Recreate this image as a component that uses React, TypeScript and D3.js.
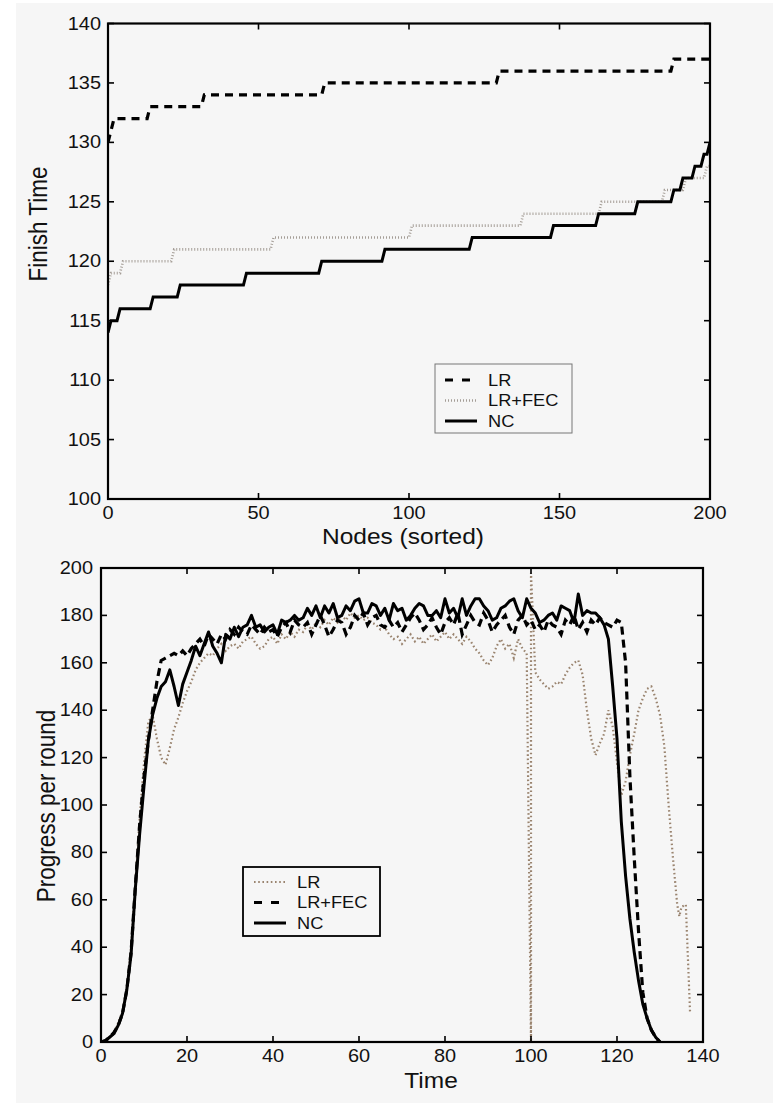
import React, { useRef, useEffect } from 'react';
import * as d3 from 'd3';

// ---- top panel: finish time per node (nodes sorted), stepwise levels ----
const nodeTicks = [0, 50, 100, 150, 200];
const finishTicks = [100, 105, 110, 115, 120, 125, 130, 135, 140];

// node index at which each level starts, and the level value
const lrStarts = [0, 1, 2, 14, 32, 72, 130, 188];
const lrLevels = [130, 131, 132, 133, 134, 135, 136, 137];

const fecStarts = [0, 1, 5, 22, 55, 101, 138, 164, 185, 192, 199];
const fecLevels = [118, 119, 120, 121, 122, 123, 124, 125, 126, 127, 128];

const ncStarts = [0, 1, 4, 15, 24, 46, 71, 92, 121, 148, 163, 176, 188, 191, 195, 198, 200];
const ncLevels = [114, 115, 116, 117, 118, 119, 120, 121, 122, 123, 124, 125, 126, 127, 128, 129, 130];

// ---- bottom panel: progress per round over time ----
const timeTicks = [0, 20, 40, 60, 80, 100, 120, 140];
const progressTicks = [0, 20, 40, 60, 80, 100, 120, 140, 160, 180, 200];

// one value per round, t = 0..130
const ncProgress = [
  0, 0.5, 2, 3.5, 7, 12, 22, 37, 65, 88, 108, 127, 138, 145, 150, 152, 157, 150, 142, 151,
  156, 161, 167, 163, 168, 173, 167, 164, 160, 172, 170, 175, 171, 175, 176, 180, 175, 176, 173, 175,
  176, 172, 178, 177, 178, 180, 178, 179, 183, 180, 184, 179, 184, 181, 185, 179, 180, 184, 182, 186,
  187, 181, 181, 185, 184, 180, 183, 178, 185, 182, 183, 178, 180, 183, 185, 184, 180, 180, 182, 179,
  187, 181, 183, 179, 187, 180, 184, 187, 187, 184, 182, 178, 179, 183, 184, 186, 187, 182, 179, 187,
  183, 181, 177, 178, 180, 181, 178, 184, 183, 182, 177, 189, 180, 182, 181, 181, 179, 176, 170, 150,
  128, 93, 70, 52, 38, 26, 16, 10, 5, 2, 0,
];

const fecProgress = [
  0, 0.5, 2, 4, 7, 12, 22, 38, 66, 92, 112, 127, 140, 152, 161, 162, 163, 164, 163, 165,
  163, 166, 168, 170, 167, 172, 170, 168, 172, 170, 174, 172, 175, 173, 172, 176, 174, 172, 175, 173,
  174, 171, 175, 177, 173, 178, 176, 175, 177, 172, 176, 180, 176, 171, 174, 178, 177, 172, 175, 180,
  178, 181, 176, 179, 180, 176, 175, 178, 175, 177, 173, 176, 179, 181, 178, 174, 176, 179, 175, 172,
  177, 179, 176, 181, 172, 176, 180, 177, 176, 181, 178, 173, 176, 178, 180, 175, 172, 178, 180, 176,
  178, 174, 176, 173, 178, 176, 175, 172, 178, 176, 180, 174, 177, 173, 178, 176, 179, 177, 176, 175,
  178, 177, 160, 112, 78, 47, 21, 10, 5, 2, 0,
];

// LR: one value per round for t = 0..99, then the irregular tail as [t, value]
const lrProgress = [
  0, 0.5, 2, 4, 8, 13, 23, 40, 68, 95, 118, 135, 138, 128, 120, 117, 124, 132, 137, 143,
  148, 152, 157, 160, 162, 164, 163, 166, 168, 165, 167, 168, 166, 169, 170, 171, 168, 166, 167, 170,
  171, 168, 172, 170, 173, 171, 174, 173, 176, 174, 177, 175, 178, 176, 179, 177, 180, 178, 181, 179,
  180, 178, 179, 177, 176, 174, 175, 172, 170, 171, 168, 170, 172, 169, 171, 168, 170, 172, 169, 171,
  173, 170, 172, 170, 168, 171, 169, 166, 164, 161, 159, 162, 167, 170, 166, 168, 162, 170, 166, 164,
];
const lrTail = [
  [100, 0], [100, 198], [101, 156], [102, 153], [103, 151], [104, 149], [105, 150], [106, 152],
  [107, 151], [108, 155], [109, 158], [110, 160], [111, 161], [112, 155], [113, 140], [114, 128],
  [115, 121], [116, 126], [117, 130], [118, 140], [119, 133], [120, 118], [121, 104], [122, 110],
  [123, 121], [124, 130], [125, 140], [126, 145], [127, 149], [128, 150], [129, 145], [130, 138],
  [131, 125], [132, 100], [133, 78], [134, 58], [134.5, 53], [135, 57], [136, 58], [137, 12],
];

const BG = '#f6f6f6';
const INK = '#111';
const DOT_TOP = '#a49d96';
const DOT_BOTTOM = '#9a846f';
const FONT = '"Liberation Sans", Arial, Helvetica, sans-serif';
const SX = 1.14; // the lettering of the figure is a little wider than plain Helvetica

function stepPoints(starts: number[], levels: number[], last: number) {
  const pts: [number, number][] = [];
  levels.forEach((v, i) => {
    const s = starts[i];
    const e = i < levels.length - 1 ? starts[i + 1] - 1 : last;
    pts.push([s, v]);
    if (e > s) pts.push([e, v]);
  });
  return pts;
}

function text(g: any, x: number, y: number, s: string, size: number, anchor = 'middle', rotate = 0) {
  const t = rotate
    ? `translate(${x},${y}) rotate(${rotate}) scale(1,${SX})`
    : `translate(${x},${y}) scale(${SX},1)`;
  g.append('text')
    .attr('transform', t)
    .attr('text-anchor', anchor)
    .attr('dominant-baseline', 'central')
    .attr('font-family', FONT)
    .attr('font-size', size)
    .attr('fill', INK)
    .text(s);
}

function frame(g: any, x: any, y: any, xTicks: number[], yTicks: number[]) {
  const [x0, x1] = x.range();
  const [y0, y1] = y.range();
  const tick = 6;
  xTicks.forEach((v) => {
    g.append('line').attr('x1', x(v)).attr('x2', x(v)).attr('y1', y0).attr('y2', y0 - tick);
    g.append('line').attr('x1', x(v)).attr('x2', x(v)).attr('y1', y1).attr('y2', y1 + tick);
  });
  yTicks.forEach((v) => {
    g.append('line').attr('x1', x0).attr('x2', x0 + tick).attr('y1', y(v)).attr('y2', y(v));
    g.append('line').attr('x1', x1).attr('x2', x1 - tick).attr('y1', y(v)).attr('y2', y(v));
  });
  g.selectAll('line').attr('stroke', '#000').attr('stroke-width', 1.6);
  g.append('rect')
    .attr('x', x0).attr('y', y1)
    .attr('width', x1 - x0).attr('height', y0 - y1)
    .attr('fill', 'none').attr('stroke', '#000').attr('stroke-width', 2.2);
}

function App() {
  const ref = useRef<SVGSVGElement>(null);

  useEffect(() => {
    if (!ref.current) return;
    const svg = d3.select(ref.current);
    svg.selectAll('*').remove();

    svg.append('rect').attr('x', 16).attr('y', 3).attr('width', 757).attr('height', 1100).attr('fill', BG);

    const defs = svg.append('defs');

    // ---------- top panel ----------
    const xTop = d3.scaleLinear().domain([0, 200]).range([108, 710]);
    const yTop = d3.scaleLinear().domain([100, 140]).range([499, 23.5]);
    defs.append('clipPath').attr('id', 'clipTop').append('rect')
      .attr('x', 108).attr('y', 23.5).attr('width', 602).attr('height', 475.5);

    const lineTop = d3.line<[number, number]>().x((d) => xTop(d[0])).y((d) => yTop(d[1]));
    const top = svg.append('g').attr('clip-path', 'url(#clipTop)');
    top.append('path')
      .attr('d', lineTop(stepPoints(fecStarts, fecLevels, 200)))
      .attr('fill', 'none').attr('stroke', DOT_TOP).attr('stroke-width', 2.6).attr('stroke-dasharray', '1,2');
    top.append('path')
      .attr('d', lineTop(stepPoints(ncStarts, ncLevels, 200)))
      .attr('fill', 'none').attr('stroke', '#000').attr('stroke-width', 3);
    top.append('path')
      .attr('d', lineTop(stepPoints(lrStarts, lrLevels, 200)))
      .attr('fill', 'none').attr('stroke', '#000').attr('stroke-width', 3.2).attr('stroke-dasharray', '8,6');

    frame(svg.append('g'), xTop, yTop, nodeTicks, finishTicks);
    const tl = svg.append('g');
    finishTicks.forEach((v) => text(tl, 101, yTop(v), String(v), 17.5, 'end'));
    nodeTicks.forEach((v) => text(tl, xTop(v), 513, String(v), 17.5));
    text(tl, 403, 537, 'Nodes (sorted)', 21.5);
    text(tl, 38, 224, 'Finish Time', 22.5, 'middle', -90);

    // legend (top)
    const lt = svg.append('g');
    lt.append('rect').attr('x', 435).attr('y', 364).attr('width', 137).attr('height', 69)
      .attr('fill', BG).attr('stroke', '#777').attr('stroke-width', 1);
    const topLegend = [
      { name: 'LR', stroke: '#000', w: 3.2, dash: '8,9' },
      { name: 'LR+FEC', stroke: DOT_TOP, w: 2.6, dash: '1,2' },
      { name: 'NC', stroke: '#000', w: 3, dash: null },
    ];
    topLegend.forEach((d, i) => {
      const yy = 380 + i * 20.5;
      lt.append('line').attr('x1', 445).attr('x2', 477).attr('y1', yy).attr('y2', yy)
        .attr('stroke', d.stroke).attr('stroke-width', d.w).attr('stroke-dasharray', d.dash);
      text(lt, 488, yy, d.name, 16, 'start');
    });

    // ---------- bottom panel ----------
    const xBot = d3.scaleLinear().domain([0, 140]).range([101, 703]);
    const yBot = d3.scaleLinear().domain([0, 200]).range([1042, 568]);
    defs.append('clipPath').attr('id', 'clipBot').append('rect')
      .attr('x', 101).attr('y', 568).attr('width', 602).attr('height', 474);

    const lineBot = d3.line<[number, number]>().x((d) => xBot(d[0])).y((d) => yBot(d[1]));
    const ncPts = ncProgress.map((v, i) => [i, v] as [number, number]);
    const fecPts = fecProgress.map((v, i) => [i, v] as [number, number]);
    const lrPts = lrProgress.map((v, i) => [i, v] as [number, number]).concat(lrTail as [number, number][]);

    const bot = svg.append('g').attr('clip-path', 'url(#clipBot)');
    bot.append('path').attr('d', lineBot(lrPts))
      .attr('fill', 'none').attr('stroke', DOT_BOTTOM).attr('stroke-width', 2.2).attr('stroke-dasharray', '1.6,2.6');
    bot.append('path').attr('d', lineBot(fecPts))
      .attr('fill', 'none').attr('stroke', '#000').attr('stroke-width', 3.2).attr('stroke-dasharray', '8,5');
    bot.append('path').attr('d', lineBot(ncPts))
      .attr('fill', 'none').attr('stroke', '#000').attr('stroke-width', 3).attr('stroke-linejoin', 'round');

    frame(svg.append('g'), xBot, yBot, timeTicks, progressTicks);
    const bl = svg.append('g');
    progressTicks.forEach((v) => text(bl, 93, yBot(v), String(v), 17.5, 'end'));
    timeTicks.forEach((v) => text(bl, xBot(v), 1056, String(v), 17.5));
    text(bl, 431, 1081, 'Time', 21.5);
    text(bl, 46, 806, 'Progress per round', 22.5, 'middle', -90);

    // legend (bottom)
    const lb = svg.append('g');
    lb.append('rect').attr('x', 243).attr('y', 867).attr('width', 137).attr('height', 69)
      .attr('fill', BG).attr('stroke', '#000').attr('stroke-width', 1.8);
    const botLegend = [
      { name: 'LR', stroke: DOT_BOTTOM, w: 2.2, dash: '1.6,2.6' },
      { name: 'LR+FEC', stroke: '#000', w: 3.2, dash: '8,9' },
      { name: 'NC', stroke: '#000', w: 3, dash: null },
    ];
    botLegend.forEach((d, i) => {
      const yy = 882 + i * 20.5;
      lb.append('line').attr('x1', 254).attr('x2', 286).attr('y1', yy).attr('y2', yy)
        .attr('stroke', d.stroke).attr('stroke-width', d.w).attr('stroke-dasharray', d.dash);
      text(lb, 297, yy, d.name, 16, 'start');
    });
  }, []);

  return (
    <div style={{ position: 'absolute', left: 0, top: 0 }}>
      <svg ref={ref} width={773} height={1103} style={{ display: 'block' }} />
    </div>
  );
}

export default App;
